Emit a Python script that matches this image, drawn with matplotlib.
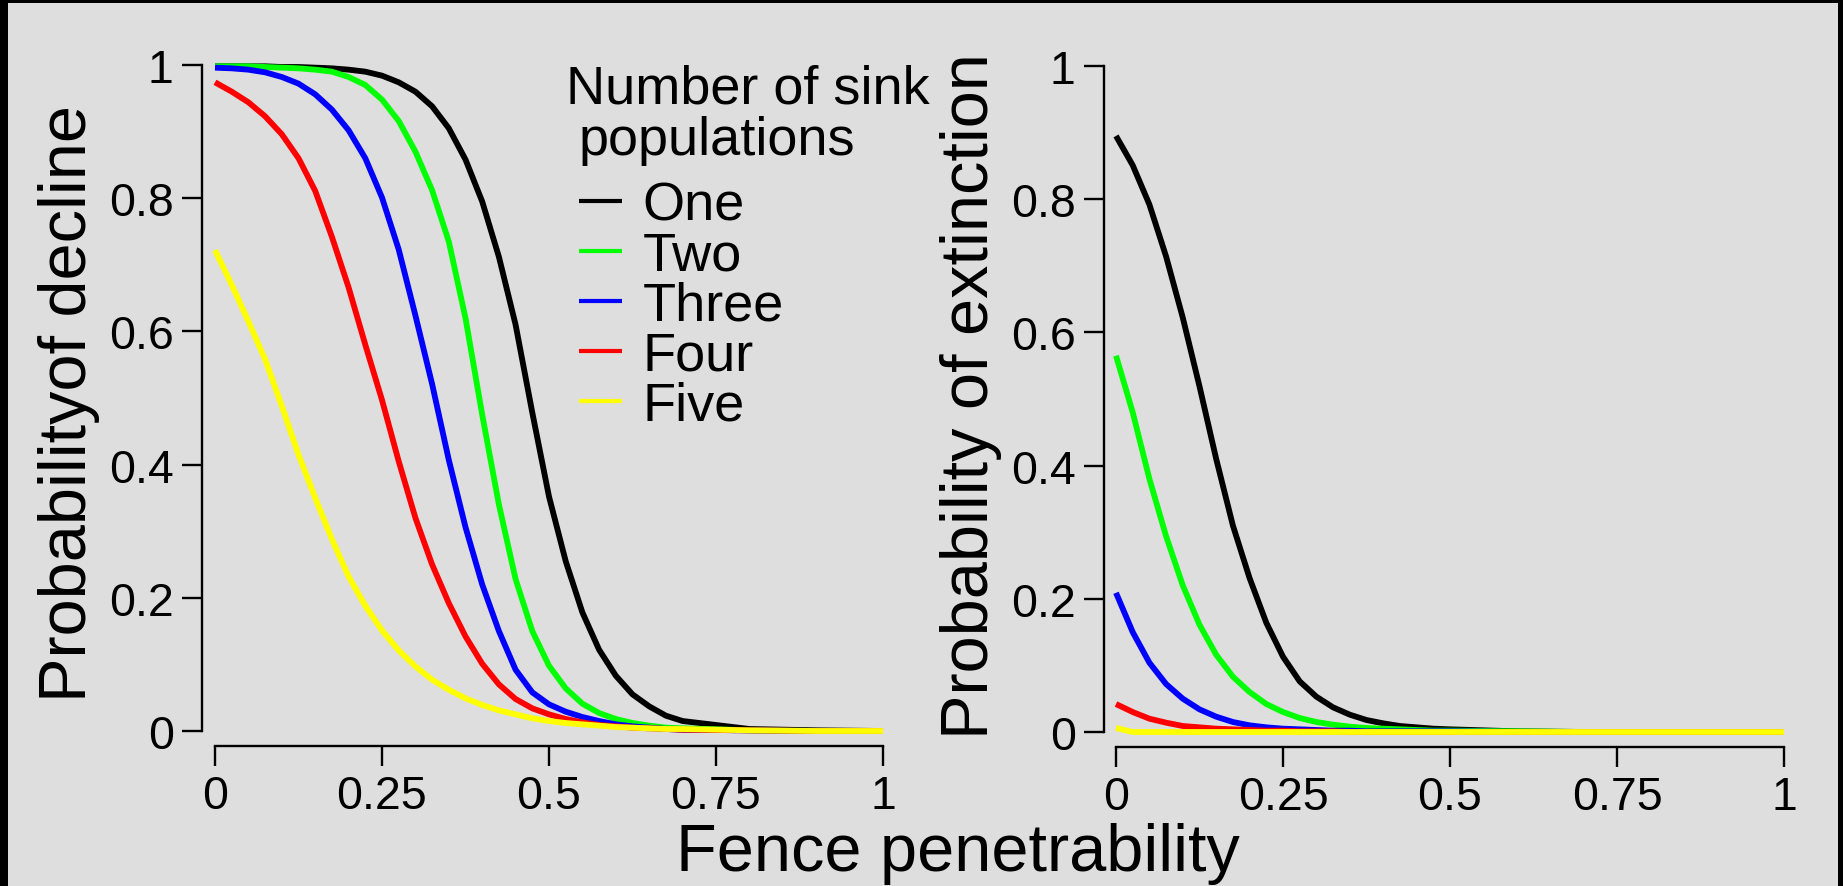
import matplotlib
matplotlib.use("Agg")
import matplotlib.pyplot as plt
from matplotlib.patches import Rectangle

plt.rcParams['font.family'] = ['Liberation Sans', 'DejaVu Sans']

# ---------------- data ----------------
series_names = ["One", "Two", "Three", "Four", "Five"]
series_colors = ["#000000", "#00ff00", "#0000ff", "#ff0000", "#ffff00"]

x_decline = [0, 0.025, 0.05, 0.075, 0.1, 0.125, 0.15, 0.175, 0.2, 0.225, 0.25,
             0.275, 0.3, 0.325, 0.35, 0.375, 0.4, 0.425, 0.45, 0.475, 0.5,
             0.525, 0.55, 0.575, 0.6, 0.625, 0.65, 0.675, 0.7, 0.8, 0.9, 1.0]

decline_one = [0.998, 0.998, 0.998, 0.998, 0.997, 0.997, 0.996, 0.995, 0.993, 0.990, 0.984,
               0.974, 0.960, 0.938, 0.905, 0.858, 0.795, 0.712, 0.610, 0.478, 0.352,
               0.255, 0.178, 0.122, 0.083, 0.055, 0.037, 0.023, 0.015, 0.003, 0.001, 0.0]
decline_two = [0.998, 0.998, 0.998, 0.997, 0.996, 0.995, 0.993, 0.990, 0.982, 0.970, 0.948,
               0.916, 0.870, 0.812, 0.735, 0.620, 0.475, 0.340, 0.228, 0.150, 0.098,
               0.064, 0.041, 0.027, 0.018, 0.012, 0.008, 0.005, 0.004, 0.001, 0.0, 0.0]
decline_three = [0.996, 0.995, 0.993, 0.989, 0.982, 0.972, 0.956, 0.933, 0.902, 0.860, 0.801,
                 0.723, 0.624, 0.521, 0.407, 0.306, 0.220, 0.150, 0.092, 0.058, 0.040,
                 0.029, 0.021, 0.015, 0.010, 0.007, 0.005, 0.003, 0.002, 0.001, 0.0, 0.0]
decline_four = [0.974, 0.960, 0.944, 0.923, 0.896, 0.860, 0.811, 0.742, 0.666, 0.580, 0.497,
                0.405, 0.320, 0.250, 0.192, 0.142, 0.101, 0.070, 0.048, 0.034, 0.025,
                0.018, 0.013, 0.009, 0.007, 0.005, 0.004, 0.003, 0.002, 0.001, 0.0, 0.0]
decline_five = [0.722, 0.670, 0.615, 0.558, 0.488, 0.415, 0.350, 0.288, 0.232, 0.188, 0.151,
                0.121, 0.097, 0.077, 0.062, 0.049, 0.039, 0.031, 0.025, 0.019, 0.015,
                0.012, 0.010, 0.008, 0.006, 0.005, 0.004, 0.003, 0.003, 0.001, 0.0, 0.0]

x_extinct = [0, 0.025, 0.05, 0.075, 0.1, 0.125, 0.15, 0.175, 0.2, 0.225, 0.25,
             0.275, 0.3, 0.325, 0.35, 0.375, 0.4, 0.425, 0.45, 0.475, 0.5,
             0.6, 0.7, 0.8, 0.9, 1.0]

extinct_one = [0.895, 0.851, 0.792, 0.714, 0.622, 0.519, 0.410, 0.310, 0.231, 0.164, 0.113,
               0.076, 0.053, 0.037, 0.026, 0.018, 0.013, 0.009, 0.007, 0.005, 0.004,
               0.001, 0.0, 0.0, 0.0, 0.0]
extinct_two = [0.565, 0.480, 0.380, 0.294, 0.220, 0.161, 0.116, 0.083, 0.060, 0.042, 0.030,
               0.021, 0.015, 0.011, 0.008, 0.006, 0.005, 0.004, 0.003, 0.002, 0.002,
               0.001, 0.0, 0.0, 0.0, 0.0]
extinct_three = [0.209, 0.150, 0.104, 0.072, 0.050, 0.034, 0.023, 0.015, 0.010, 0.007, 0.005,
                 0.004, 0.003, 0.002, 0.002, 0.001, 0.001, 0.001, 0.001, 0.001, 0.001,
                 0.0, 0.0, 0.0, 0.0, 0.0]
extinct_four = [0.042, 0.030, 0.020, 0.014, 0.009, 0.007, 0.005, 0.004, 0.003, 0.002, 0.002,
                0.001, 0.001, 0.001, 0.0, 0.0, 0.0, 0.0, 0.0, 0.0, 0.0,
                0.0, 0.0, 0.0, 0.0, 0.0]
extinct_five = [0.006, 0.0, 0.0, 0.0, 0.0, 0.0, 0.0, 0.0, 0.0, 0.0, 0.0,
                0.0, 0.0, 0.0, 0.0, 0.0, 0.0, 0.0, 0.0, 0.0, 0.0,
                0.0, 0.0, 0.0, 0.0, 0.0]

x_ticks = [0, 0.25, 0.5, 0.75, 1]
x_ticklabels = ["0", "0.25", "0.5", "0.75", "1"]
y_ticks = [0, 0.2, 0.4, 0.6, 0.8, 1]
y_ticklabels = ["0", "0.2", "0.4", "0.6", "0.8", "1"]

ylabel_left = "Probabilityof decline"
ylabel_right = "Probability of extinction"
xlabel = "Fence penetrability"
legend_title = ["Number of sink", "populations"]

# ---------------- layout (pixels) ----------------
W, H = 1843, 887
BG = "#dedede"
fig = plt.figure(figsize=(W / 100, H / 100), dpi=100, facecolor="black")
fig.patches.append(Rectangle((8 / W, 0), (1838 - 8) / W, (H - 4) / H,
                             transform=fig.transFigure, facecolor=BG,
                             edgecolor="none", zorder=-10))

XS, YS = 668.0, 666.0       # pixels per data unit


def make_axes(spine_x, zero_x, zero_y, spine_y):
    xlo = -(zero_x - spine_x) / XS
    xhi = 1.03
    ylo = -(spine_y - zero_y) / YS
    yhi = 1.03
    wpx = (xhi - xlo) * XS
    hpx = (yhi - ylo) * YS
    ax = fig.add_axes([spine_x / W, (H - spine_y) / H, wpx / W, hpx / H])
    ax.set_xlim(xlo, xhi)
    ax.set_ylim(ylo, yhi)
    ax.patch.set_visible(False)
    for s in ("top", "right"):
        ax.spines[s].set_visible(False)
    for s in ("left", "bottom"):
        ax.spines[s].set_linewidth(1.7)
        ax.spines[s].set_bounds(0, 1)
    ax.set_xticks(x_ticks)
    ax.set_xticklabels(x_ticklabels)
    ax.set_yticks(y_ticks)
    ax.set_yticklabels(y_ticklabels)
    ax.tick_params(axis="both", direction="out", length=14.4, width=1.7,
                   labelsize=33.5, colors="black")
    ax.tick_params(axis="x", pad=6)
    ax.tick_params(axis="y", pad=6)
    return ax


ax1 = make_axes(202, 215, 732, 747)
ax2 = make_axes(1104, 1116, 733, 748)

decline = [decline_one, decline_two, decline_three, decline_four, decline_five]
extinct = [extinct_one, extinct_two, extinct_three, extinct_four, extinct_five]

lines = []
for name, col, yv in zip(series_names, series_colors, decline):
    ln, = ax1.plot(x_decline, yv, color=col, lw=4.2, label=name,
                   solid_capstyle="butt", solid_joinstyle="round", clip_on=False)
    lines.append(ln)
for name, col, yv in zip(series_names, series_colors, extinct):
    ax2.plot(x_extinct, yv, color=col, lw=4.2, solid_capstyle="butt",
             solid_joinstyle="round", clip_on=False)

# legend
leg = ax1.legend(handles=lines, labels=series_names, loc="upper left",
                 bbox_to_anchor=(579 / W, 1 - 182 / H), bbox_transform=fig.transFigure,
                 frameon=False, borderpad=0, borderaxespad=0,
                 handlelength=0.8, handletextpad=0.37, labelspacing=0.0,
                 prop={"size": 39})
for l in leg.get_lines():
    l.set_linewidth(3.0)
fig.text(566 / W, 1 - 103 / H, legend_title[0], fontsize=39, ha="left", va="baseline")
fig.text(579 / W, 1 - 155 / H, legend_title[1], fontsize=39, ha="left", va="baseline")

# axis labels
fig.text(86 / W, 1 - 403 / H, ylabel_left, fontsize=48, rotation=90,
         rotation_mode="anchor", ha="center", va="baseline")
fig.text(988 / W, 1 - 396 / H, ylabel_right, fontsize=48, rotation=90,
         rotation_mode="anchor", ha="center", va="baseline")
fig.text(958 / W, 1 - 871 / H, xlabel, fontsize=48, ha="center", va="baseline")

fig.savefig("out.png", dpi=100, facecolor=fig.get_facecolor())
